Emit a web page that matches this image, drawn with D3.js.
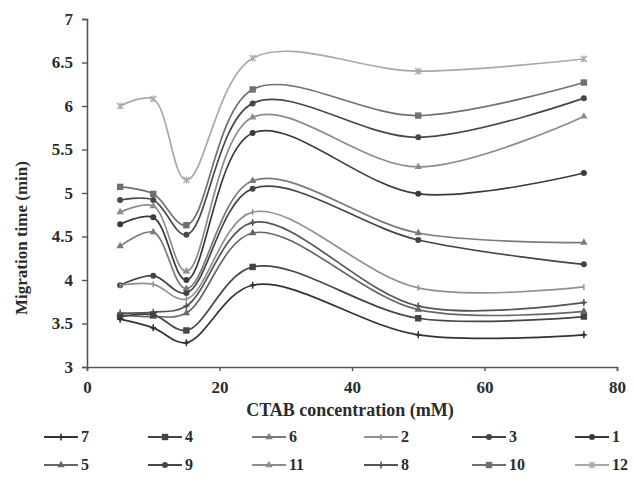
<!DOCTYPE html>
<html>
<head>
<meta charset="utf-8">
<script src="https://cdn.jsdelivr.net/npm/d3@7"></script>
<style>
  body { margin: 0; background: #fff; }
  svg { display: block; }
  text { font-family: "Liberation Serif", "DejaVu Serif", serif; font-weight: bold; fill: #2b2b2b; }
</style>
</head>
<body>
<svg></svg>
<script>
// migration time vs CTAB concentration, 12 analytes, smoothed lines
const width = 634, height = 495;

const concentrations = [5, 10, 15, 25, 50, 75];
const yTicks = [3, 3.5, 4, 4.5, 5, 5.5, 6, 6.5, 7];
const xTicks = [0, 20, 40, 60, 80];

// values, one array per analyte
const s12 = [6.00, 6.08, 5.15, 6.55, 6.40, 6.54];
const s10 = [5.07, 4.99, 4.63, 6.19, 5.89, 6.27];
const s9  = [4.92, 4.92, 4.52, 6.03, 5.64, 6.09];
const s11 = [4.78, 4.85, 4.10, 5.87, 5.30, 5.88];
const s1  = [4.64, 4.72, 4.00, 5.69, 4.99, 5.23];
const s6  = [4.39, 4.55, 3.90, 5.14, 4.54, 4.43];
const s3  = [3.94, 4.05, 3.85, 5.05, 4.46, 4.18];
const s2  = [3.94, 3.95, 3.78, 4.78, 3.91, 3.92];
const s8  = [3.62, 3.63, 3.70, 4.66, 3.70, 3.74];
const s5  = [3.60, 3.58, 3.62, 4.54, 3.66, 3.64];
const s4  = [3.58, 3.60, 3.42, 4.15, 3.56, 3.58];
const s7  = [3.55, 3.45, 3.28, 3.94, 3.37, 3.37];

// legend order (two rows of six)
const legendOrder = ["7", "4", "6", "2", "3", "1", "5", "9", "11", "8", "10", "12"];

const series = [
  { name: "12", values: s12, color: "#a9a9a9", marker: "star" },
  { name: "10", values: s10, color: "#707070", marker: "square" },
  { name: "9",  values: s9,  color: "#474747", marker: "circle" },
  { name: "11", values: s11, color: "#8c8c8c", marker: "triangle" },
  { name: "1",  values: s1,  color: "#3a3a3a", marker: "circle" },
  { name: "6",  values: s6,  color: "#7a7a7a", marker: "triangle" },
  { name: "3",  values: s3,  color: "#444444", marker: "circle" },
  { name: "2",  values: s2,  color: "#8f8f8f", marker: "dash" },
  { name: "8",  values: s8,  color: "#555555", marker: "plus" },
  { name: "5",  values: s5,  color: "#666666", marker: "triangle" },
  { name: "4",  values: s4,  color: "#444444", marker: "square" },
  { name: "7",  values: s7,  color: "#333333", marker: "plus" }
];

const svg = d3.select("svg").attr("width", width).attr("height", height);

const x = d3.scaleLinear().domain([0, 80]).range([87, 617]);
const y = d3.scaleLinear().domain([3, 7]).range([367, 19]);

// axes
const axisColor = "#555";
const yAxis = svg.append("g").attr("transform", `translate(${x(0)},0)`)
  .call(d3.axisLeft(y).tickValues(yTicks).tickSize(5).tickPadding(9).tickFormat(d3.format("")));
const xAxis = svg.append("g").attr("transform", `translate(0,${y(3)})`)
  .call(d3.axisBottom(x).tickValues(xTicks).tickSize(4).tickPadding(10));
[yAxis, xAxis].forEach(a => {
  a.select(".domain").attr("stroke", axisColor).attr("stroke-width", 1.6);
  a.selectAll(".tick line").attr("stroke", axisColor).attr("stroke-width", 1.4);
  a.selectAll(".tick text").attr("font-size", 17).attr("font-family", null).attr("fill", "#2b2b2b");
});

// axis titles
svg.append("text")
  .attr("transform", `translate(27,238) rotate(-90)`)
  .attr("text-anchor", "middle")
  .attr("font-size", 17)
  .text("Migration time (min)");

svg.append("text")
  .attr("x", 350)
  .attr("y", 416)
  .attr("text-anchor", "middle")
  .attr("font-size", 18)
  .text("CTAB concentration (mM)");

// marker drawing
function drawMarker(g, type, color, cx, cy) {
  if (type === "circle") {
    g.append("circle").attr("cx", cx).attr("cy", cy).attr("r", 3).attr("fill", color);
  } else if (type === "square") {
    g.append("rect").attr("x", cx - 3.2).attr("y", cy - 3.2).attr("width", 6.4).attr("height", 6.4).attr("fill", color);
  } else if (type === "triangle") {
    g.append("path").attr("transform", `translate(${cx},${cy})`)
      .attr("d", d3.symbol(d3.symbolTriangle, 24)()).attr("fill", color);
  } else if (type === "plus") {
    g.append("path").attr("d", `M${cx},${cy - 3.5}V${cy + 3.5}M${cx - 3},${cy}H${cx + 3}`)
      .attr("stroke", color).attr("stroke-width", 1.5);
    g.append("circle").attr("cx", cx).attr("cy", cy).attr("r", 1.6).attr("fill", color);
  } else if (type === "star") {
    g.append("path").attr("d", `M${cx - 3},${cy - 3}L${cx + 3},${cy + 3}M${cx - 3},${cy + 3}L${cx + 3},${cy - 3}M${cx},${cy - 3.5}V${cy + 3.5}`)
      .attr("stroke", color).attr("stroke-width", 1.3);
  } else if (type === "dash") {
    g.append("path").attr("d", `M${cx},${cy - 3}V${cy + 3}`)
      .attr("stroke", color).attr("stroke-width", 1.4);
  }
}

const line = d3.line()
  .x(d => x(d[0]))
  .y(d => y(d[1]))
  .curve(d3.curveCatmullRom.alpha(0.5));

const plot = svg.append("g");
series.forEach(s => {
  const pts = concentrations.map((c, i) => [c, s.values[i]]);
  plot.append("path")
    .datum(pts)
    .attr("d", line)
    .attr("fill", "none")
    .attr("stroke", s.color)
    .attr("stroke-width", 1.7);
  const mg = plot.append("g");
  pts.forEach(p => drawMarker(mg, s.marker, s.color, x(p[0]), y(p[1])));
});

// legend
const colX = [44, 148, 252, 364, 472, 575];
const rowY = [437, 465];
const legend = svg.append("g");
legendOrder.forEach((name, i) => {
  const s = series.find(d => d.name === name);
  const lx = colX[i % 6], ly = rowY[Math.floor(i / 6)];
  legend.append("line")
    .attr("x1", lx).attr("x2", lx + 34)
    .attr("y1", ly).attr("y2", ly)
    .attr("stroke", s.color).attr("stroke-width", 2);
  drawMarker(legend, s.marker, s.color, lx + 17, ly);
  legend.append("text")
    .attr("x", lx + 37)
    .attr("y", ly + 5)
    .attr("font-size", 16)
    .text(name);
});
</script>
</body>
</html>
